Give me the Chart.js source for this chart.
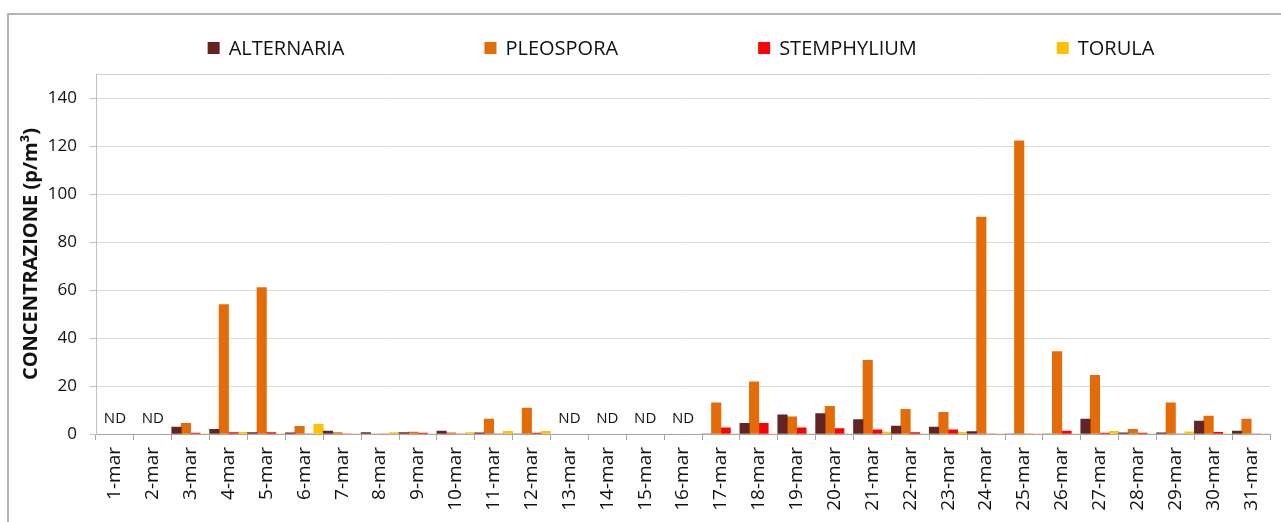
<!DOCTYPE html>
<html>
<head>
<meta charset="utf-8">
<script src="https://cdn.jsdelivr.net/npm/chart.js@4.4.1/dist/chart.umd.min.js"></script>
<style>
    html, body {
        margin: 0;
        padding: 0;
        overflow: hidden;
        background: #ffffff;
    }
    #chart {
        display: block;
    }
</style>
</head>
<body>
<canvas id="chart" width="1281" height="522"></canvas>
<script>
    const days = [
        '1-mar', '2-mar', '3-mar', '4-mar', '5-mar', '6-mar', '7-mar', '8-mar', '9-mar', '10-mar',
        '11-mar', '12-mar', '13-mar', '14-mar', '15-mar', '16-mar', '17-mar', '18-mar', '19-mar', '20-mar',
        '21-mar', '22-mar', '23-mar', '24-mar', '25-mar', '26-mar', '27-mar', '28-mar', '29-mar', '30-mar',
        '31-mar'
    ];

    // null = ND (dato non disponibile)
    const alternaria = [null, null, 2.9, 1.9, 0.6, 0.5, 1.2, 0.6, 0.6, 1.2, 0.5, 0, null, null, null, null,
        0, 4.4, 8.0, 8.5, 6.0, 3.3, 2.9, 1.0, 0, 0, 6.2, 0.5, 0.5, 5.4, 1.2];
    const pleospora = [null, null, 4.4, 53.9, 61.0, 3.2, 0.6, 0, 0.8, 0.5, 6.2, 10.8, null, null, null, null,
        13.0, 21.7, 7.2, 11.5, 30.7, 10.3, 9.0, 90.4, 122.2, 34.3, 24.4, 1.9, 13.0, 7.5, 6.2];
    const stemphylium = [null, null, 0.4, 0.6, 0.6, 0, 0, 0, 0.4, 0, 0, 0.4, null, null, null, null,
        2.6, 4.4, 2.6, 2.3, 1.7, 0.6, 1.7, 0, 0, 1.2, 0.4, 0.4, 0, 0.7, 0];
    const torula = [null, null, 0, 0.7, 0, 4.0, 0, 0.6, 0, 0.6, 1.1, 1.1, null, null, null, null,
        0, 0, 0, 0, 0.8, 0, 0.7, 0, 0, 0, 1.1, 0, 0.9, 0, 0];

    const seriesNames = ['ALTERNARIA', 'PLEOSPORA', 'STEMPHYLIUM', 'TORULA'];
    const seriesColors = ['#632523', '#E36C09', '#FF0000', '#FFC000'];

    Chart.defaults.font.family = "'Open Sans', sans-serif";
    Chart.defaults.color = '#111111';

    // cornice esterna + bordo superiore dell'area del grafico
    const frames = {
        id: 'frames',
        beforeDraw(chart) {
            const ctx = chart.ctx;
            const area = chart.chartArea;
            ctx.save();
            ctx.strokeStyle = '#b4b4b4';
            ctx.lineWidth = 2;
            ctx.beginPath();
            ctx.moveTo(8, chart.height + 5);
            ctx.lineTo(8, 14);
            ctx.lineTo(chart.width + 5, 14);
            ctx.stroke();

            ctx.strokeStyle = '#cfcfcf';
            ctx.lineWidth = 1;
            ctx.beginPath();
            ctx.moveTo(area.left, area.top + 0.5);
            ctx.lineTo(area.right, area.top + 0.5);
            ctx.stroke();
            ctx.restore();
        }
    };

    // scritta ND sui giorni senza dati
    const ndLabels = {
        id: 'ndLabels',
        afterDatasetsDraw(chart) {
            const ctx = chart.ctx;
            const x = chart.scales.x;
            const y = chart.scales.y;
            ctx.save();
            ctx.font = "15px 'Open Sans', sans-serif";
            ctx.fillStyle = '#111111';
            ctx.textAlign = 'center';
            ctx.textBaseline = 'middle';
            days.forEach(function (day, i) {
                const empty = chart.data.datasets.every(ds => ds.data[i] === null);
                if (empty) {
                    ctx.fillText('ND', x.getPixelForValue(i), y.getPixelForValue(0) - 15);
                }
            });
            ctx.restore();
        }
    };

    // legenda in alto con spazi larghi
    const wideLegend = {
        id: 'wideLegend',
        afterDraw(chart) {
            const ctx = chart.ctx;
            const gap = 140;
            const box = 12;
            const textGap = 9;
            const centerX = 681;
            const centerY = 48;
            ctx.save();
            ctx.font = "20px 'Open Sans', sans-serif";
            ctx.textBaseline = 'middle';
            ctx.textAlign = 'left';
            const widths = chart.data.datasets.map(ds => box + textGap + ctx.measureText(ds.label).width);
            const total = widths.reduce((a, b) => a + b, 0) + gap * (widths.length - 1);
            let x = centerX - total / 2;
            chart.data.datasets.forEach(function (ds, i) {
                ctx.fillStyle = ds.backgroundColor;
                ctx.fillRect(x, centerY - box / 2, box, box);
                ctx.fillStyle = '#111111';
                ctx.fillText(ds.label, x + box + textGap, centerY + 1);
                x += widths[i] + gap;
            });
            ctx.restore();
        }
    };

    const seriesData = [alternaria, pleospora, stemphylium, torula];

    const ctx = document.getElementById('chart').getContext('2d');
    const chart = new Chart(ctx, {
        type: 'bar',
        data: {
            labels: days,
            datasets: seriesNames.map(function (name, i) {
                return {
                    label: name,
                    data: seriesData[i],
                    backgroundColor: seriesColors[i],
                    borderWidth: 0,
                    categoryPercentage: 1.0,
                    barPercentage: 1.0
                };
            })
        },
        options: {
            responsive: false,
            animation: false,
            layout: {
                padding: {top: 74, left: 8, right: 0, bottom: 0}
            },
            plugins: {
                legend: {display: false},
                tooltip: {enabled: false}
            },
            scales: {
                x: {
                    grid: {
                        offset: true,
                        drawOnChartArea: false,
                        drawTicks: true,
                        tickLength: 6,
                        tickColor: '#a6a6a6'
                    },
                    border: {color: '#a6a6a6'},
                    ticks: {
                        autoSkip: false,
                        minRotation: 90,
                        maxRotation: 90,
                        padding: 7,
                        font: {size: 19}
                    },
                    afterFit(scale) {
                        scale.height = 88;
                    }
                },
                y: {
                    min: 0,
                    max: 150,
                    grid: {
                        color: '#d9d9d9',
                        tickLength: 6,
                        tickColor: '#bfbfbf'
                    },
                    border: {color: '#bfbfbf'},
                    ticks: {
                        stepSize: 20,
                        includeBounds: false,
                        padding: 13,
                        font: {size: 17}
                    },
                    title: {
                        display: true,
                        text: 'CONCENTRAZIONE (p/m³)',
                        font: {size: 20, weight: 'bold'},
                        padding: {top: 11, bottom: 0}
                    },
                    afterFit(scale) {
                        scale.width = 88;
                    }
                }
            }
        },
        plugins: [frames, ndLabels, wideLegend]
    });
</script>
</body>
</html>
